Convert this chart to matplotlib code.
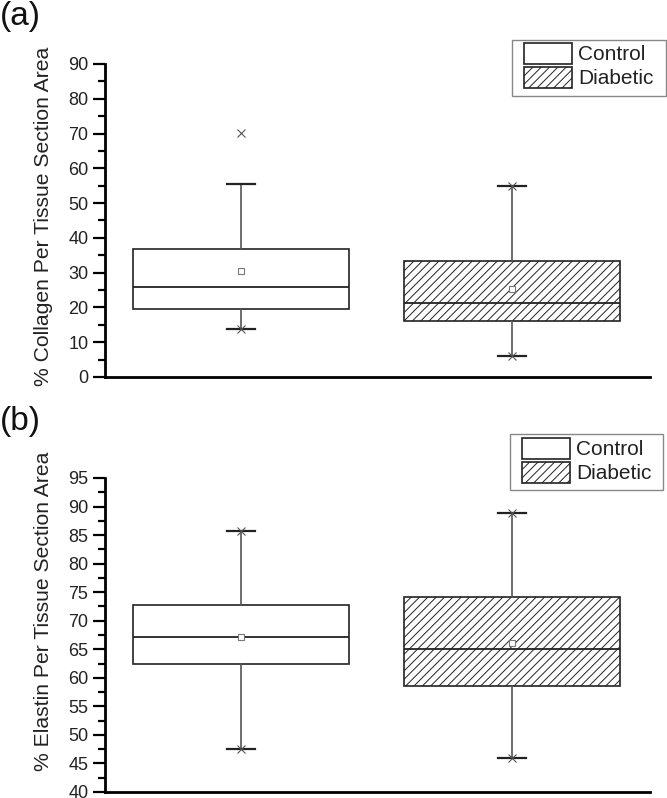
import matplotlib
matplotlib.use("Agg")
import matplotlib.pyplot as plt
from matplotlib.patches import Patch, Rectangle

plt.rcParams['font.family'] = ['Liberation Sans', 'DejaVu Sans']
plt.rcParams['hatch.color'] = '#444444'
plt.rcParams['hatch.linewidth'] = 0.7

groups = ["Control", "Diabetic"]

# Panel (a): collagen
collagen_q1 = [19.6, 16.0]
collagen_med = [25.9, 21.2]
collagen_q3 = [36.8, 33.3]
collagen_whislo = [13.9, 6.0]
collagen_whishi = [55.5, 54.9]
collagen_mean = [30.4, 25.2]
collagen_min = [13.9, 6.0]
collagen_max = [70.2, 54.9]

# Panel (b): elastin
elastin_q1 = [62.4, 58.6]
elastin_med = [67.1, 65.0]
elastin_q3 = [72.7, 74.2]
elastin_whislo = [47.5, 46.0]
elastin_whishi = [85.8, 88.9]
elastin_mean = [67.2, 66.1]
elastin_min = [47.5, 46.0]
elastin_max = [85.8, 88.9]

ylabel_a = "% Collagen Per Tissue Section Area"
ylabel_b = "% Elastin Per Tissue Section Area"

W, H = 667, 798
fig = plt.figure(figsize=(W / 100, H / 100), dpi=100)

LINE = '#222222'
GRAY = '#555555'
TXT = '#222222'


def make_axes(top_px, bot_px):
    left, right = 105 / W, 650 / W
    return fig.add_axes([left, 1 - bot_px / H, right - left, (bot_px - top_px) / H])


def draw_panel(ax, q1, med, q3, wlo, whi, mean, mn, mx, ylim, major, minor):
    stats = []
    for i in range(len(groups)):
        stats.append(dict(label=groups[i], q1=q1[i], med=med[i], q3=q3[i],
                          whislo=wlo[i], whishi=whi[i], mean=mean[i], fliers=[]))
    positions = [1, 2]
    bp = ax.bxp(stats, positions=positions, widths=0.8, patch_artist=True,
                showmeans=True, showfliers=False, capwidths=0.105,
                boxprops=dict(linewidth=1.2, edgecolor=LINE),
                medianprops=dict(color=LINE, linewidth=1.3),
                whiskerprops=dict(color=GRAY, linewidth=1.2),
                capprops=dict(color=LINE, linewidth=1.6),
                meanprops=dict(marker='s', markersize=5, markerfacecolor='white',
                               markeredgecolor='#777777', markeredgewidth=0.8))
    bp['boxes'][0].set_facecolor('white')
    bp['boxes'][1].set_facecolor('white')
    bp['boxes'][1].set_hatch('////')
    # min / max markers (×)
    for i, p in enumerate(positions):
        for v in (mn[i], mx[i]):
            ax.plot([p], [v], marker='x', color='#555555', markersize=6,
                    markeredgewidth=0.8, linestyle='none')
    ax.set_xlim(0.498, 2.509)
    ax.set_ylim(*ylim)
    ax.set_yticks(major)
    ax.set_yticks(minor, minor=True)
    ax.set_xticks([])
    for s in ('top', 'right'):
        ax.spines[s].set_visible(False)
    for s in ('left', 'bottom'):
        ax.spines[s].set_linewidth(2)
        ax.spines[s].set_color('black')
    ax.tick_params(axis='y', which='major', length=9, width=1.6, labelsize=13, pad=3,
                   labelcolor=TXT)
    ax.tick_params(axis='y', which='minor', length=5, width=1.6)


def add_legend(frame_px, handle_left_px, handle_top_px):
    x0, y0, x1, y1 = frame_px
    fig.patches.append(Rectangle((x0 / W, 1 - y1 / H), (x1 - x0) / W, (y1 - y0) / H,
                                 transform=fig.transFigure, facecolor='white',
                                 edgecolor='#888888', linewidth=1.0, zorder=5))
    fs_px = 15 * 100 / 72
    handles = [Patch(facecolor='white', edgecolor=LINE, linewidth=1.2, label=groups[0]),
               Patch(facecolor='white', edgecolor=LINE, linewidth=1.2, hatch='////',
                     label=groups[1])]
    leg = fig.legend(handles=handles, loc='upper left',
                     bbox_to_anchor=(handle_left_px / W, 1 - handle_top_px / H),
                     bbox_transform=fig.transFigure, borderaxespad=0, borderpad=0,
                     fontsize=15, frameon=False,
                     handlelength=48 / fs_px, handleheight=24 / fs_px,
                     labelspacing=2.5 / fs_px, handletextpad=6 / fs_px)
    leg.set_zorder(10)
    for t in leg.get_texts():
        t.set_color(TXT)


ax_a = make_axes(64, 377)
draw_panel(ax_a, collagen_q1, collagen_med, collagen_q3, collagen_whislo, collagen_whishi,
           collagen_mean, collagen_min, collagen_max,
           (0, 90), list(range(0, 91, 10)), list(range(5, 90, 10)))
add_legend((512, 40, 666, 96), 524, 43)

ax_b = make_axes(478, 792)
draw_panel(ax_b, elastin_q1, elastin_med, elastin_q3, elastin_whislo, elastin_whishi,
           elastin_mean, elastin_min, elastin_max,
           (40, 95), list(range(40, 96, 5)), [42.5 + 5 * k for k in range(11)])
add_legend((510, 434, 663, 490), 522, 438)

fig.text(44 / W, 1 - 216 / H, ylabel_a, rotation=90, ha='center', va='center',
         fontsize=15.2, color=TXT)
fig.text(44 / W, 1 - 611 / H, ylabel_b, rotation=90, ha='center', va='center',
         fontsize=15.2, color=TXT)

fig.text(0 / W, 1 - 1 / H, "(a)", fontsize=24, va='top', ha='left', color='#111111')
fig.text(0 / W, 1 - 406 / H, "(b)", fontsize=24, va='top', ha='left', color='#111111')

fig.savefig("out.png", dpi=100)
